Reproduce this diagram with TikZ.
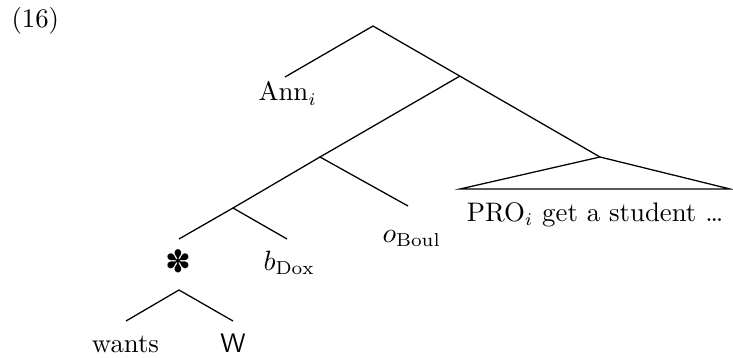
\documentclass[tikz,border=0pt]{standalone}
\usepackage{fontspec}
\newfontfamily\dingfont{DejaVu Sans}
\begin{document}
\begin{tikzpicture}[x=0.392pt,y=-0.392pt,
  font=\fontsize{10.5}{12.6}\selectfont,
  edge/.style={line width=0.5pt},
  lbl/.style={anchor=base,inner sep=0pt}]
\useasboundingbox (0,0) rectangle (733,358);

% branching points of the tree
\coordinate (root) at (373,26);
\coordinate (annT) at (285,77);
\coordinate (np) at (460,76);
\coordinate (tri) at (600,157);
\coordinate (vp) at (320,157);
\coordinate (boulT) at (408,206);
\coordinate (dox) at (233,208);
\coordinate (starT) at (179,239);
\coordinate (doxT) at (287,239);
\coordinate (wn) at (179,290);
\coordinate (wantsT) at (126,321);
\coordinate (wT) at (233,321);
\coordinate (triL) at (460,189);
\coordinate (triR) at (730,189);

% labels
\node[lbl,anchor=base west] (num) at (11,28) {(16)};
\node[lbl,anchor=base west] (ann) at (258,101) {Ann$_i$};
\node[lbl,anchor=base west] (bdox) at (263,270) {$b_{\mathrm{Dox}}$};
\node[lbl,anchor=base west] (oboul) at (382,242) {$o_{\mathrm{Boul}}$};
\node[lbl] (pro) at (595,221) {PRO$_i$ get a student …};
\node[inner sep=0pt,scale=1.15] (star) at (178,261) {\dingfont ✽};
\node[lbl] (wants) at (125.5,352) {wants};
\node[lbl] (w) at (233,352) {\textsf{W}};

% branches
\draw[edge] (annT) -- (root) -- (tri);
\draw[edge] (np) -- (vp) -- (boulT);
\draw[edge] (vp) -- (dox);
\draw[edge] (starT) -- (dox) -- (doxT);
\draw[edge] (wantsT) -- (wn) -- (wT);
\draw[edge] (tri) -- (triL) -- (triR) -- cycle;
\end{tikzpicture}
\end{document}
